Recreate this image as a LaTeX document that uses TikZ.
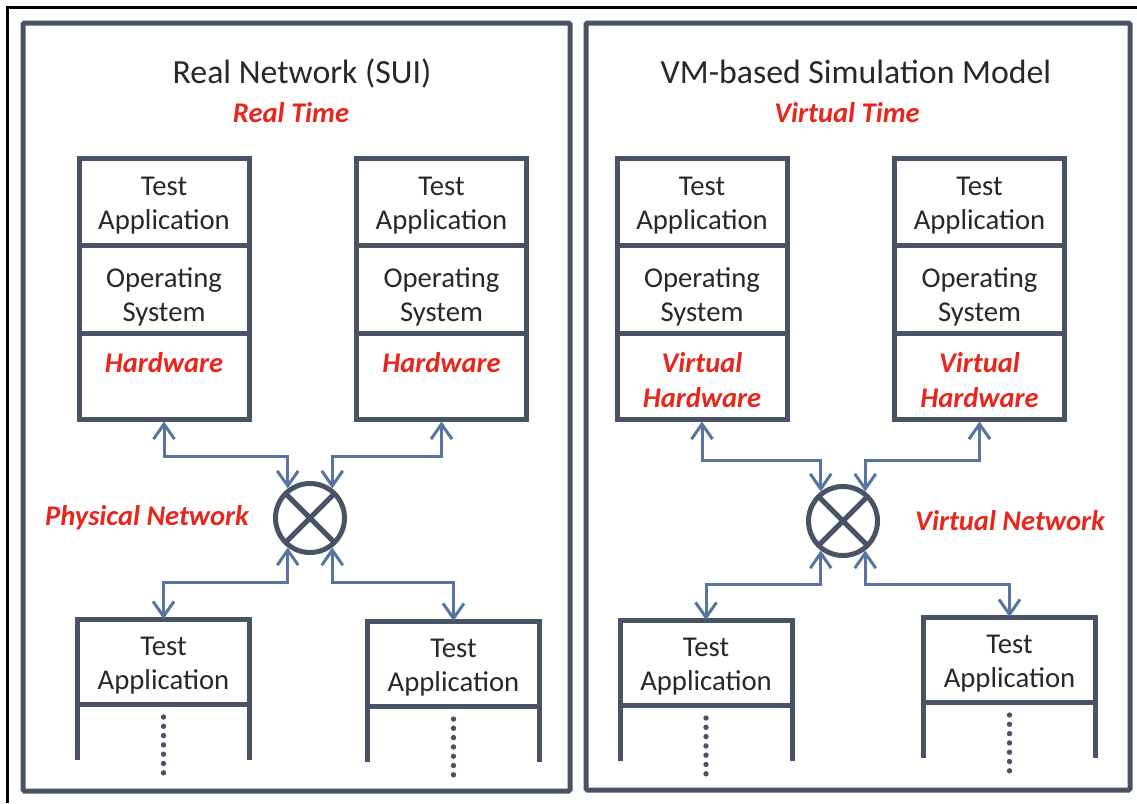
\documentclass[tikz,border=0pt]{standalone}
\usepackage{fontspec}
\setmainfont{Carlito}
\usetikzlibrary{arrows.meta}
\definecolor{framegray}{RGB}{74,83,102}
\definecolor{linkblue}{RGB}{88,116,160}
\definecolor{hotred}{RGB}{232,38,28}
\definecolor{ink}{RGB}{40,40,40}

\begin{document}
\begin{tikzpicture}[x=1pt,y=-1pt,
  panelbox/.style={draw=framegray, line width=5pt, rounded corners=1.5pt},
  stackbox/.style={draw=framegray, line width=5pt, minimum width=170pt, minimum height=261pt, inner sep=0pt},
  legbox/.style={minimum width=172pt, minimum height=141pt, inner sep=0pt, outer sep=0pt},
  cellrule/.style={draw=framegray, line width=5pt},
  txt/.style={text=ink, align=center, font=\fontsize{28.7}{34}\selectfont, inner sep=0pt},
  hottxt/.style={text=hotred, align=center, font=\fontsize{28.5}{35}\selectfont\bfseries\itshape, inner sep=0pt},
  headtxt/.style={text=ink, font=\fontsize{33.8}{40}\selectfont, inner sep=0pt},
  hubnode/.style={circle, draw=framegray, line width=5pt, minimum size=69pt, inner sep=0pt},
  netlink/.style={draw=linkblue, line width=3pt,
    {Straight Barb[length=15pt,width=21pt]}-{Straight Barb[length=15pt,width=21pt]}},
]
\useasboundingbox (0,0) rectangle (1137,803);
\fill[white] (0,0) rectangle (1137,803);

% outer frame (top and left edges)
\draw[black, line width=3pt] (7.5,803) -- (7.5,7.5) -- (1137,7.5);

% the two panels
\draw[panelbox] (23,23) rectangle (570,791);
\draw[panelbox] (586,23) rectangle (1130,790);

% headings
\node[headtxt] (hl) at (302,73) {Real Network (SUI)};
\node[hottxt] (tl) at (291,113) {Real Time};
\node[headtxt] (hr) at (856,72) {VM-based Simulation Model};
\node[hottxt] (tr) at (847,113) {Virtual Time};

% upper stacks: application / OS / hardware
\foreach \nm/\cx in {b1/164, b2/441.5, b3/702, b4/979.5}{
  \node[stackbox] (\nm) at (\cx,288.5) {};
  \draw[cellrule] (\nm.west |- 0,245) -- (\nm.east |- 0,245);
  \draw[cellrule] (\nm.west |- 0,333) -- (\nm.east |- 0,333);
  \node[txt] (\nm app) at (\cx,206) {Test\\Application};
  \node[txt] (\nm os) at (\cx,297) {Operating\\System};
}
\node[hottxt] (b1hw) at (164,363) {Hardware};
\node[hottxt] (b2hw) at (441.5,363) {Hardware};
\node[hottxt] (b3hw) at (702,380) {Virtual\\Hardware};
\node[hottxt] (b4hw) at (979.5,380) {Virtual\\Hardware};

% lower stacks: application over an open column
\foreach \nm/\cx/\top in {t1/163.5/619, t2/453.5/621, t3/706/620, t4/1009.5/617}{
  \node[legbox] (\nm) at (\cx,{\top+70.5}) {};
  \draw[cellrule] (\nm.south west) -- (\nm.north west) -- (\nm.north east) -- (\nm.south east);
  \draw[cellrule] (\nm.west |- 0,{\top+85}) -- (\nm.east |- 0,{\top+85});
  \node[txt] (\nm app) at (\cx,{\top+47}) {Test\\Application};
  \foreach \k in {0,...,6}
    \fill[framegray] (\cx,{\top+98+9.3*\k}) circle (2.7);
}

% switches
\node[hubnode] (hubL) at (310,518) {};
\draw[cellrule] (hubL.center) +(-24,-24) -- +(24,24);
\draw[cellrule] (hubL.center) +(-24,24) -- +(24,-24);
\node[hubnode] (hubR) at (843,521) {};
\draw[cellrule] (hubR.center) +(-24,-24) -- +(24,24);
\draw[cellrule] (hubR.center) +(-24,24) -- +(24,-24);

\node[hottxt] (netL) at (147,518) {Physical Network};
\node[hottxt] (netR) at (1010,521) {Virtual Network};

% links between stacks and switches
\draw[netlink] (b1.south) -- (b1.south |- 0,456) -| (hubL.127);
\draw[netlink] (b2.south) -- (b2.south |- 0,456) -| (hubL.53);
\draw[netlink] (t1.north) -- (t1.north |- 0,582) -| (hubL.233);
\draw[netlink] (t2.north) -- (t2.north |- 0,582) -| (hubL.307);

\draw[netlink] (b3.south) -- (b3.south |- 0,460) -| (hubR.127);
\draw[netlink] (b4.south) -- (b4.south |- 0,460) -| (hubR.53);
\draw[netlink] (t3.north) -- (t3.north |- 0,584) -| (hubR.233);
\draw[netlink] (t4.north) -- (t4.north |- 0,584) -| (hubR.307);
\end{tikzpicture}
\end{document}
